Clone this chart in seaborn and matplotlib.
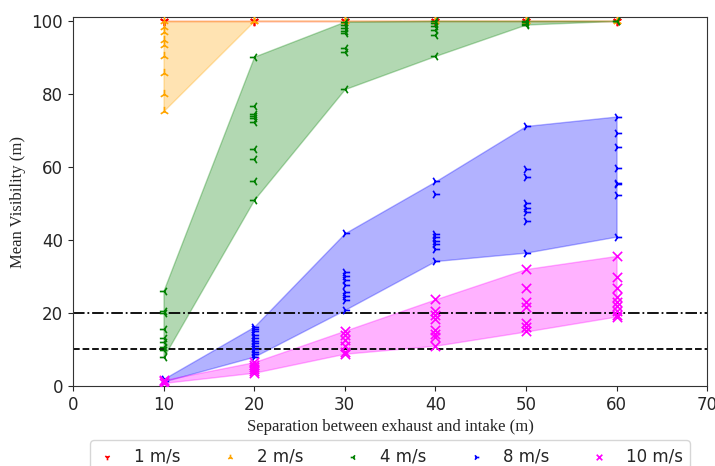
import numpy as np
import pandas as pd
import matplotlib
matplotlib.use("Agg")
import matplotlib.pyplot as plt
import seaborn as sns

separations = [10, 20, 30, 40, 50, 60]
speed_labels = ["1 m/s", "2 m/s", "4 m/s", "8 m/s", "10 m/s"]

vis_1ms = [[100, 100, 100], [100, 100, 100], [100, 100, 100],
           [100, 100, 100], [100, 100, 100], [100, 100, 100]]
vis_2ms = [[100, 98.4, 96.9, 94.8, 93.4, 90.4, 85.8, 80.0, 75.3],
           [100, 100], [100, 100], [100, 100], [100, 100], [100, 100]]
vis_4ms = [[26.1, 20.5, 20.0, 15.6, 13.1, 12.1, 10.6, 9.9, 7.9],
           [90.2, 76.7, 74.5, 74.0, 73.3, 72.4, 64.8, 62.2, 56.2, 51.0],
           [99.8, 98.9, 98.0, 97.1, 96.6, 92.5, 91.6, 81.3],
           [100, 99.5, 98.5, 97.5, 96.2, 90.4],
           [100, 99.6, 99.2, 99.0],
           [100, 100]]
vis_8ms = [[1.9, 1.2],
           [16.2, 15.5, 14.9, 14.0, 13.1, 12.4, 11.7, 10.8, 10.1, 9.4, 8.7, 8.0],
           [41.8, 31.3, 30.1, 29.0, 27.6, 25.8, 24.5, 23.4, 20.8],
           [56.0, 52.5, 41.6, 40.7, 39.8, 38.9, 37.6, 34.2],
           [71.2, 59.4, 57.2, 50.1, 48.7, 47.5, 45.2, 36.5],
           [73.8, 69.4, 65.4, 59.6, 55.7, 55.3, 52.3, 40.9]]
vis_10ms = [[1.6, 1.2, 0.8],
            [6.5, 5.8, 5.2, 4.7, 4.2, 3.6],
            [15.1, 14.0, 12.6, 10.8, 9.4, 8.8],
            [23.7, 20.5, 19.5, 18.4, 15.2, 14.2, 13.5, 11.0],
            [32.0, 26.8, 22.9, 21.7, 17.3, 16.1, 14.9],
            [35.6, 29.8, 26.8, 24.3, 23.1, 21.9, 20.6, 19.5, 19.0]]

threshold_dashdot = 20
threshold_dashed = 10

all_series = [vis_1ms, vis_2ms, vis_4ms, vis_8ms, vis_10ms]
colors = ["red", "orange", "green", "blue", "magenta"]
markers = ["1", "2", "3", "4", "x"]

rows = []
for lab, series in zip(speed_labels, all_series):
    for sep, vals in zip(separations, series):
        for v in vals:
            rows.append({"speed": lab, "sep": sep, "vis": v})
df = pd.DataFrame(rows)

sns.set_style("ticks")
plt.rcParams["font.family"] = ["DejaVu Sans"]

fig = plt.figure(figsize=(7.15, 4.66), dpi=100)
ax = fig.add_axes([0.102, 0.172, 0.887, 0.791])

for lab, series, c, m in zip(speed_labels, all_series, colors, markers):
    lo = [min(v) for v in series]
    hi = [max(v) for v in series]
    ax.fill_between(separations, lo, hi, color=c, alpha=0.3, linewidth=1)

for lab, c, m in zip(speed_labels, colors, markers):
    sub = df[df["speed"] == lab]
    sns.scatterplot(data=sub, x="sep", y="vis", marker=m, color=c, s=45,
                    linewidth=1.2, label=lab, ax=ax, zorder=3)

ax.axhline(threshold_dashdot, color="black", linestyle="-.", linewidth=1.3)
ax.axhline(threshold_dashed, color="black", linestyle="--", linewidth=1.3)

ax.set_xlim(0, 70)
ax.set_ylim(0, 101)
ax.set_xticks(np.arange(0, 71, 10))
ax.set_yticks(np.arange(0, 101, 20))
ax.tick_params(labelsize=12)
ax.set_xlabel("Separation between exhaust and intake (m)", family="Liberation Serif", fontsize=12)
ax.set_ylabel("Mean Visibility (m)", family="Liberation Serif", fontsize=12)
for sp in ax.spines.values():
    sp.set_visible(True)
    sp.set_color("#333333")

ax.legend(loc="upper center", bbox_to_anchor=(0.5, -0.148), ncol=5, fontsize=12,
          markerscale=0.6, handlelength=1.2, columnspacing=2.4, handletextpad=1.0,
          frameon=True, borderaxespad=0, borderpad=0.4)

fig.savefig("out.png", dpi=100)
